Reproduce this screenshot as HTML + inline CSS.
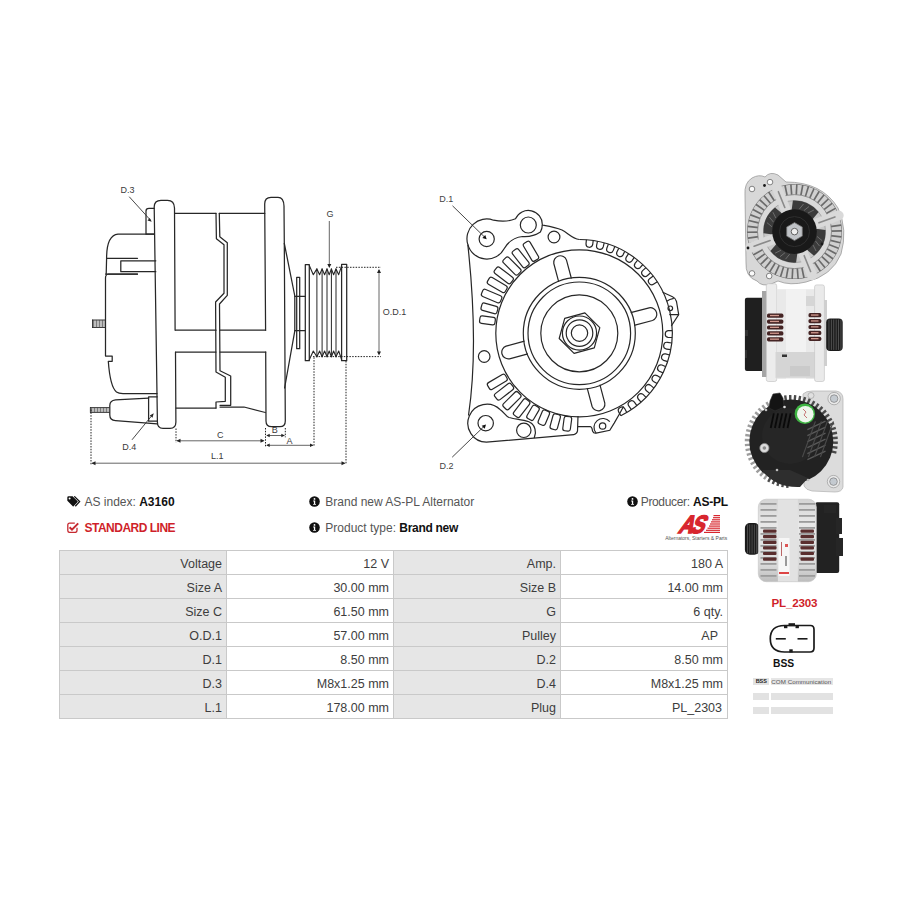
<!DOCTYPE html>
<html><head><meta charset="utf-8">
<style>
html,body{margin:0;padding:0;background:#fff;width:900px;height:900px;overflow:hidden;font-family:"Liberation Sans",sans-serif;}
#draw{position:absolute;left:0;top:0;width:900px;height:900px;}
.t{position:absolute;white-space:nowrap;font-size:12px;line-height:14px;color:#444;}
.b{font-weight:bold;color:#111;}
.red{color:#cf1f2a;font-weight:bold;}
.ic{position:absolute;}
table{position:absolute;left:59px;top:550px;border-collapse:collapse;font-size:12.5px;color:#3d3d3d;}
td{border:1.3px solid #c9c9c9;height:21px;padding:2px 4px 0 0;text-align:right;width:162px;}
td.h{background:#e6e6e6;}
</style></head>
<body>
<svg id="draw" width="900" height="900" viewBox="0 0 900 900">
<g id="side" fill="none" stroke="#272727" stroke-width="1.25" stroke-linejoin="round" stroke-linecap="round">
<!-- rear cover upper -->
<path d="M154,234.2 L118,234.2 C110,235 106.6,245 106.6,258.3 L106.2,274"/>
<path d="M106.6,258.3 L137.5,258.3 M105.5,274 L137.5,274"/>
<path d="M155.8,260.8 L120.8,260.8 L120.8,271.7 L155.8,271.7"/>
<!-- rear cover lower -->
<path d="M137.5,274 L108.5,274 Q105.5,274.5 105.5,278 L105.5,356 L112.2,356 L112.2,361.3 L108.3,361.3 C109.5,378 111.5,388 116.5,392 Q118.5,393.5 123,393.5 L157,393.5"/>
<!-- D.3 tab -->
<path d="M154.2,234.2 L146,234.2 L146,211 Q146,208.3 149,208.3 L154.2,208.3"/>
<!-- front flange -->
<path d="M175.1,330.2 L174.5,208 Q174.3,200.3 167.5,200.3 L161,200.3 Q154.2,200.3 154.2,207 L157.4,422 Q157.4,428.4 163,428.4 L170,428.4 Q175.9,428.4 175.9,422 L175.5,352"/>
<!-- stud top -->
<g stroke-width="0.9"><path d="M92.5,320 L105.5,320 M92.5,327.5 L105.5,327.5 M92.5,320 L92.5,327.5"/>
<path d="M93.5,320.3 V327.2 M95.0,320.3 V327.2 M96.5,320.3 V327.2 M98.0,320.3 V327.2 M99.5,320.3 V327.2 M101.0,320.3 V327.2 M102.5,320.3 V327.2 M104.0,320.3 V327.2" stroke-width="0.7" stroke="#444"/></g>
<!-- stud bottom -->
<g stroke-width="0.9"><path d="M90.4,407.6 L109.3,407.6 M90.4,412.4 L109.3,412.4 M90.4,407.6 V412.4"/>
<path d="M91.5,407.9 V412.2 M93.0,407.9 V412.2 M94.5,407.9 V412.2 M96.0,407.9 V412.2 M97.5,407.9 V412.2 M99.0,407.9 V412.2 M100.5,407.9 V412.2 M102.0,407.9 V412.2 M103.5,407.9 V412.2 M105.0,407.9 V412.2 M106.5,407.9 V412.2 M108.0,407.9 V412.2" stroke-width="0.7" stroke="#444"/></g>
<!-- D.4 lug -->
<path d="M148.6,398.1 L115.5,399.8 Q109.8,400.5 109.8,405.5 L109.8,415 Q109.8,420.2 115.5,420.7 L157.2,423.9"/>
<path d="M157.2,396.8 L148.6,396.8 L148.6,421.2 L157.2,421.2"/>
<!-- stator housing upper -->
<path d="M175,213.3 L216,213.3 M219.3,213.3 L264.8,213.3"/>
<path d="M175.6,330.2 L216,330.2 M220,330.2 L265.6,330.2"/>
<path d="M175.9,352 L216,352 M220,352 L265.7,352"/>
<path d="M216,213.3 L216.4,238.7 L224,244.7 L224,293.3 L215.6,302 L216,372 L225.3,377.3 L225.3,401.3 L216,402 L216,408"/>
<path d="M219.3,213.3 L219.8,236.7 L227.3,242.7 L227.3,295.3 L219.5,304 L220,370.7 L230.7,376 L230.7,405.3 L220,405.3"/>
<path d="M176.1,408 L216,408 M220,407 L244,407 L265.3,412.5"/>
<!-- rear flange -->
<path d="M265.6,330.2 L264.7,204 Q264.7,197.3 271,197.3 L278,197.3 Q283.7,197.3 284,206 L284.3,243 L285.3,421 Q285.3,426.7 280,426.7 L271.5,426.7 Q266,426.7 266,421 L265.7,352"/>
<!-- cone -->
<path d="M284.3,243.3 L294.8,296 L294.8,330.8 L284.6,388"/>
<!-- hub -->
<rect x="296.7" y="277.3" width="3" height="71.4"/>
<path d="M294.8,296.4 L305.3,296.4 M294.8,330.7 L305.3,330.7"/>
<!-- pulley -->
<rect x="305.3" y="264.5" width="4" height="96.2"/>
<rect x="341.6" y="264.4" width="5.1" height="96.3"/>
<path d="M309.3,265.5 L313.3,274.7 L316.9,268.9 L319.6,274.7 L322.1,268.9 L324.6,274.7 L327.0,268.9 L329.2,274.7 L331.4,268.9 L333.6,274.7 L336.0,268.9 L338.7,274.7 L341.6,266" stroke-width="1.1"/>
<path d="M309.3,359.8 L313.3,351 L316.9,356.8 L319.6,351 L322.1,356.8 L324.6,351 L327.0,356.8 L329.2,351 L331.4,356.8 L333.6,351 L336.0,356.8 L338.7,351 L341.6,359.5" stroke-width="1.1"/>
<path d="M316.9,268.9 V356.8 M322.1,268.9 V356.8 M327.0,268.9 V356.8 M331.4,268.9 V356.8 M336.0,268.9 V356.8" stroke-width="1"/>
</g>
<g id="dims" fill="none" stroke="#333" stroke-width="0.9">
<path d="M91,409.6 V464.3 M176,428.5 V442.7 M265.5,428 V446.7 M285.3,428 V437.3 M314,357.3 V446.7 M346,361 V464 M336,267.3 H381 M313,356.6 H381" stroke-dasharray="1.5 1.3" stroke="#222" stroke-width="1"/>
<path d="M92,463.2 H344.5 M177,440.8 H263.5 M267,435.5 H284.3 M267,445.3 H313 M379,270 V354 M329.3,221 V266.5" stroke="#555"/>
<g fill="#222" stroke="none">
<path d="M91.5,463.2 l4,-2 v4 z M345.5,463.2 l-4,-2 v4 z"/>
<path d="M176.5,440.8 l4,-2 v4 z M264.5,440.8 l-4,-2 v4 z"/>
<path d="M266.2,435.5 l3.5,-1.8 v3.6 z M284.8,435.5 l-3.5,-1.8 v3.6 z"/>
<path d="M266.2,445.3 l3.5,-1.8 v3.6 z M313.5,445.3 l-3.5,-1.8 v3.6 z"/>
<path d="M379,269 l-2,4 h4 z M379,355.5 l-2,-4 h4 z"/>
<path d="M329.3,268 l-2,-4 h4 z"/>
<path d="M151.7,221.7 l-4.2,-1.2 l2.2,-2.6 z M153.7,413.3 l-1.2,4.4 l-2.7,-2.3 z"/>
</g>
<path d="M129.2,196.7 L150.5,220.2 M132,439.8 L152.5,414.8" stroke="#333"/>
</g>
<g font-family="Liberation Sans" font-size="9" fill="#3a3a3a">
<text x="120.5" y="193.2">D.3</text>
<text x="122.3" y="450.2">D.4</text>
<text x="326.5" y="217">G</text>
<text x="382.8" y="315.3">O.D.1</text>
<text x="217" y="438">C</text>
<text x="271.8" y="433.3">B</text>
<text x="286.4" y="444">A</text>
<text x="211" y="458.7">L.1</text>
</g>
<g id="front" fill="none" stroke="#272727" stroke-width="1.2">
<circle cx="579.3" cy="333.3" r="83.5"/>
<circle cx="579.3" cy="333.3" r="51.3"/>
<circle cx="579.3" cy="333.3" r="38.5"/>
<path d="M584.9,312.8 L599.8,327.7 L594.3,347.9 L574.1,353.4 L559.2,338.5 L564.7,318.3Z" stroke-linejoin="round"/>
<circle cx="579.5" cy="333.1" r="17.1"/>
<circle cx="579.5" cy="333.1" r="13.3"/>
<circle cx="579.5" cy="333.1" r="8.2"/>
<path d="M571.4,278.5 L566.5,260.1 A6.6,6.6 0 0 0 553.8,263.5 L558.7,281.9" fill="#fff"/>
<path d="M634.1,325.4 L652.5,320.5 A6.6,6.6 0 0 0 649.1,307.8 L630.7,312.7" fill="#fff"/>
<path d="M587.2,388.1 L592.1,406.5 A6.6,6.6 0 0 0 604.8,403.1 L599.9,384.7" fill="#fff"/>
<path d="M524.5,341.2 L506.1,346.1 A6.6,6.6 0 0 0 509.5,358.8 L527.9,353.9" fill="#fff"/>
<circle cx="579.3" cy="333.3" r="56.0"/>
<rect x="479.70" y="316.59" width="15.50" height="7.60" rx="2.2" transform="rotate(188.00 487.45 320.39)"/>
<rect x="481.19" y="304.58" width="16.50" height="7.60" rx="2.2" transform="rotate(195.50 489.44 308.38)"/>
<rect x="481.37" y="292.28" width="20.50" height="7.60" rx="2.2" transform="rotate(203.00 491.62 296.08)"/>
<rect x="486.98" y="281.16" width="20.50" height="7.60" rx="2.2" transform="rotate(210.50 497.23 284.96)"/>
<rect x="493.48" y="271.52" width="20.50" height="7.60" rx="2.2" transform="rotate(217.50 503.73 275.32)"/>
<rect x="501.70" y="262.15" width="20.50" height="7.60" rx="2.2" transform="rotate(225.00 511.95 265.95)"/>
<rect x="510.41" y="254.44" width="20.50" height="7.60" rx="2.2" transform="rotate(232.00 520.66 258.24)"/>
<rect x="520.71" y="247.43" width="20.50" height="7.60" rx="2.2" transform="rotate(239.50 530.96 251.23)"/>
<rect x="487.06" y="377.99" width="20.50" height="7.60" rx="2.2" transform="rotate(149.40 497.31 381.79)"/>
<rect x="493.79" y="387.88" width="20.50" height="7.60" rx="2.2" transform="rotate(142.20 504.04 391.68)"/>
<rect x="501.70" y="396.85" width="20.50" height="7.60" rx="2.2" transform="rotate(135.00 511.95 400.65)"/>
<rect x="511.64" y="404.37" width="20.00" height="7.60" rx="2.2" transform="rotate(127.60 521.64 408.17)"/>
<rect x="525.52" y="409.01" width="15.00" height="7.60" rx="2.2" transform="rotate(120.20 533.02 412.81)"/>
<rect x="536.34" y="413.85" width="15.00" height="7.60" rx="2.2" transform="rotate(112.80 543.84 417.65)"/>
<rect x="547.49" y="418.04" width="15.50" height="7.60" rx="2.2" transform="rotate(105.20 555.24 421.84)"/>
<rect x="559.98" y="419.95" width="14.50" height="7.60" rx="2.2" transform="rotate(97.60 567.23 423.75)"/>
<path d="M593.2,240.5 L592.7,244.7 A3.4,3.4 0 0 1 586.0,243.9 L586.4,239.7"/>
<path d="M604.2,242.8 L603.2,246.9 A3.4,3.4 0 0 1 596.6,245.3 L597.5,241.2"/>
<path d="M614.8,246.5 L613.3,250.4 A3.4,3.4 0 0 1 606.9,248.0 L608.4,244.1"/>
<path d="M624.8,251.3 L622.9,255.1 A3.4,3.4 0 0 1 616.9,252.0 L618.8,248.2"/>
<path d="M634.3,257.4 L631.9,260.9 A3.4,3.4 0 0 1 626.3,257.1 L628.6,253.6"/>
<path d="M642.9,264.5 L640.1,267.7 A3.4,3.4 0 0 1 635.0,263.3 L637.7,260.1"/>
<path d="M650.6,272.7 L647.5,275.5 A3.4,3.4 0 0 1 642.9,270.4 L646.0,267.6"/>
<path d="M657.3,281.7 L653.8,284.1 A3.4,3.4 0 0 1 649.9,278.5 L653.3,276.1"/>
<path d="M672.2,337.5 L668.0,337.4 A3.4,3.4 0 0 1 668.1,330.7 L672.3,330.7"/>
<path d="M670.8,349.7 L666.6,349.1 A3.4,3.4 0 0 1 667.6,342.3 L671.8,343.0"/>
<path d="M667.7,361.6 L663.7,360.4 A3.4,3.4 0 0 1 665.6,353.9 L669.6,355.0"/>
<path d="M663.1,372.9 L659.3,371.2 A3.4,3.4 0 0 1 662.0,365.0 L665.9,366.7"/>
<path d="M657.1,383.6 L653.5,381.4 A3.4,3.4 0 0 1 657.0,375.6 L660.6,377.8"/>
<path d="M649.7,393.4 L646.4,390.7 A3.4,3.4 0 0 1 650.7,385.4 L654.0,388.1"/>
<path d="M641.1,402.1 L638.2,399.0 A3.4,3.4 0 0 1 643.1,394.4 L646.0,397.4"/>
<path d="M631.4,409.6 L628.9,406.2 A3.4,3.4 0 0 1 634.4,402.2 L636.9,405.6"/>
<path d="M620.8,415.8 L618.8,412.1 A3.4,3.4 0 0 1 624.8,408.8 L626.8,412.5"/>
<path d="M579.3,239.5 A93,93 0 0 1 620.8,415.7"/>
<path d="M468.5,415.5 C474.5,375 476,320 467.8,244.4"/>
<path d="M467.8,244.4 A19.7,19.7 0 0 1 493.5,220.2 C500,221.5 508,222 515.5,218.8 A14,14 0 0 1 542.3,225 C548,226 555,227 562,230 C568,233 572,238.5 579.3,239.5"/>
<path d="M467.8,244.4 A19.7,19.7 0 0 0 504.3,248.5 C507.5,243 514,237.5 522.5,236.5 C530,237 536,235 540.4,232 A14,14 0 0 0 542.3,225"/>
<circle cx="486.7" cy="239" r="7.6"/>
<circle cx="528.3" cy="225" r="8"/>
<circle cx="554" cy="237" r="5.9"/>
<circle cx="484.2" cy="356.5" r="5.8"/>
<path d="M500,409.5 A19,19 0 1 0 486.4,442.2 L573.7,434.7 Q577.3,433.5 577.5,431 L578,416"/>
<path d="M500,409.5 C504,412 506,416.5 509,417.5 C514,419 522,419.5 528.9,421.7 C533,423.5 535.5,428 535.4,433.2 L534.2,438"/>
<circle cx="485.7" cy="423.2" r="7.7"/>
<circle cx="523.8" cy="430.3" r="7.2"/>
<path d="M578,426.7 L590.3,426.7 Q592,427 592.5,431 Q593.5,433.5 596.1,433.2 L609.8,430.3 L614.2,423.1 L620,413 L623.5,406.5"/>
<path d="M596.1,433.2 A7.6,7.6 0 1 1 609.8,421.7"/>
<circle cx="602.6" cy="426" r="3.2"/>
<path d="M662.7,292.3 L672.5,296.8 Q675.8,298.3 676.5,301.5 L678.7,314.7 L671.3,326"/>
<path d="M666.7,301.3 Q669.5,299 673.8,298.3 M669.3,314.7 L678.7,314.7"/>
<circle cx="670.3" cy="308.3" r="2.3"/>
<path d="M452.5,205.8 L484.5,237" stroke="#333" stroke-width="0.9"/>
<path d="M486.7,239.2 l-4.3,-1.3 l2.9,-3 z" fill="#111" stroke="none"/>
<path d="M452.2,457.2 L484,426.4" stroke="#333" stroke-width="0.9"/>
<path d="M486,424.4 l-1.3,4.3 l-3,-2.9 z" fill="#111" stroke="none"/>
<text x="439.2" y="201.8" font-family="Liberation Sans" font-size="9" fill="#444" stroke="none">D.1</text>
<text x="439.5" y="468.8" font-family="Liberation Sans" font-size="9" fill="#444" stroke="none">D.2</text>
</g>
<g id="photos">
<defs><linearGradient id="pul" x1="0" y1="0" x2="0" y2="1"><stop offset="0" stop-color="#222"/><stop offset="0.5" stop-color="#3a3a3a"/><stop offset="1" stop-color="#151515"/></linearGradient><linearGradient id="bodyg" x1="0" y1="0" x2="0" y2="1"><stop offset="0" stop-color="#d4d4d4"/><stop offset="0.3" stop-color="#e8e8e8"/><stop offset="0.8" stop-color="#dadada"/><stop offset="1" stop-color="#bdbdbd"/></linearGradient></defs>
<path d="M745,195 Q744,183 752,178 Q759,174 765,177 Q770,171 778,175 L786,182 Q822,182 838,208 Q848,230 841,254 Q832,276 806,282 Q790,286 778,281 L771,284 Q762,287 757,281 Q745,277 746,262 Z" fill="#d8d8d8" stroke="#9a9a9a" stroke-width="0.8"/>
<circle cx="794.5" cy="231.6" r="47.5" fill="#6a6a6a"/>
<path d="M788.1,196.2 L785.9,185.4 L790.1,184.8 L790.9,195.8 Z" fill="#d0d0d0"/>
<path d="M792.6,195.7 L791.7,184.7 L796.0,184.6 L795.4,195.6 Z" fill="#d0d0d0"/>
<path d="M797.1,195.7 L797.6,184.7 L801.9,185.2 L799.9,196.0 Z" fill="#d0d0d0"/>
<path d="M801.6,196.3 L803.5,185.5 L807.6,186.5 L804.4,197.0 Z" fill="#d0d0d0"/>
<path d="M805.9,197.5 L809.2,187.0 L813.2,188.5 L808.6,198.5 Z" fill="#d0d0d0"/>
<path d="M810.1,199.2 L814.7,189.1 L818.4,191.1 L812.7,200.5 Z" fill="#d0d0d0"/>
<path d="M814.1,201.4 L819.8,192.0 L823.3,194.5 L816.4,203.0 Z" fill="#d0d0d0"/>
<path d="M817.7,204.1 L824.6,195.5 L827.7,198.4 L819.8,206.0 Z" fill="#d0d0d0"/>
<path d="M821.0,207.2 L828.9,199.5 L831.6,202.8 L822.8,209.4 Z" fill="#d0d0d0"/>
<path d="M823.8,210.7 L832.6,204.1 L835.0,207.7 L825.4,213.1 Z" fill="#d0d0d0"/>
<path d="M826.2,214.5 L835.8,209.1 L837.6,212.9 L827.5,217.1 Z" fill="#d0d0d0"/>
<path d="M828.1,218.6 L838.3,214.5 L839.6,218.5 L829.0,221.4 Z" fill="#d0d0d0"/>
<path d="M829.4,223.0 L840.1,220.1 L840.9,224.2 L830.0,225.8 Z" fill="#d0d0d0"/>
<path d="M830.3,227.4 L841.1,225.9 L841.5,230.1 L830.5,230.3 Z" fill="#d0d0d0"/>
<path d="M830.5,231.9 L841.5,231.8 L841.3,236.0 L830.4,234.8 Z" fill="#d0d0d0"/>
<path d="M830.2,236.4 L841.1,237.7 L840.4,241.9 L829.7,239.3 Z" fill="#d0d0d0"/>
<path d="M829.3,240.9 L840.0,243.4 L838.7,247.5 L828.4,243.6 Z" fill="#d0d0d0"/>
<path d="M827.9,245.1 L838.1,249.1 L836.4,252.9 L826.7,247.8 Z" fill="#d0d0d0"/>
<path d="M825.9,249.2 L835.6,254.4 L833.4,258.0 L824.4,251.7 Z" fill="#d0d0d0"/>
<path d="M823.4,253.0 L832.4,259.4 L829.8,262.7 L821.6,255.3 Z" fill="#d0d0d0"/>
<path d="M820.5,256.5 L828.6,263.9 L825.6,266.9 L818.4,258.5 Z" fill="#d0d0d0"/>
<path d="M817.2,259.5 L824.3,267.9 L820.9,270.5 L814.9,261.3 Z" fill="#d0d0d0"/>
<path d="M813.5,262.2 L819.5,271.4 L815.8,273.5 L811.0,263.6 Z" fill="#d0d0d0"/>
<path d="M809.5,264.3 L814.4,274.2 L810.4,275.8 L806.9,265.4 Z" fill="#d0d0d0"/>
<path d="M805.3,265.9 L808.9,276.4 L804.8,277.5 L802.5,266.7 Z" fill="#d0d0d0"/>
<path d="M800.9,267.0 L803.1,277.8 L798.9,278.4 L798.1,267.4 Z" fill="#d0d0d0"/>
<path d="M796.4,267.5 L797.3,278.5 L793.0,278.6 L793.6,267.6 Z" fill="#d0d0d0"/>
<path d="M791.9,267.5 L791.4,278.5 L787.1,278.0 L789.1,267.2 Z" fill="#d0d0d0"/>
<path d="M787.4,266.9 L785.5,277.7 L781.4,276.7 L784.6,266.2 Z" fill="#d0d0d0"/>
<path d="M783.1,265.7 L779.8,276.2 L775.8,274.7 L780.4,264.7 Z" fill="#d0d0d0"/>
<path d="M778.9,264.0 L774.3,274.1 L770.6,272.1 L776.3,262.7 Z" fill="#d0d0d0"/>
<path d="M774.9,261.8 L769.2,271.2 L765.7,268.7 L772.6,260.2 Z" fill="#d0d0d0"/>
<path d="M771.3,259.1 L764.4,267.7 L761.3,264.8 L769.2,257.2 Z" fill="#d0d0d0"/>
<path d="M768.0,256.0 L760.1,263.7 L757.4,260.4 L766.2,253.8 Z" fill="#d0d0d0"/>
<path d="M765.2,252.5 L756.4,259.1 L754.0,255.5 L763.6,250.1 Z" fill="#d0d0d0"/>
<path d="M762.8,248.7 L753.2,254.1 L751.4,250.3 L761.5,246.1 Z" fill="#d0d0d0"/>
<path d="M760.9,244.6 L750.7,248.7 L749.4,244.7 L760.0,241.8 Z" fill="#d0d0d0"/>
<path d="M759.6,240.2 L748.9,243.1 L748.1,239.0 L759.0,237.4 Z" fill="#d0d0d0"/>
<path d="M758.7,235.8 L747.9,237.3 L747.5,233.1 L758.5,232.9 Z" fill="#d0d0d0"/>
<path d="M758.5,231.3 L747.5,231.4 L747.7,227.2 L758.6,228.4 Z" fill="#d0d0d0"/>
<path d="M758.8,226.8 L747.9,225.5 L748.6,221.3 L759.3,223.9 Z" fill="#d0d0d0"/>
<path d="M759.7,222.3 L749.0,219.8 L750.3,215.7 L760.6,219.6 Z" fill="#d0d0d0"/>
<path d="M761.1,218.1 L750.9,214.1 L752.6,210.3 L762.3,215.4 Z" fill="#d0d0d0"/>
<path d="M763.1,214.0 L753.4,208.8 L755.6,205.2 L764.6,211.5 Z" fill="#d0d0d0"/>
<path d="M765.6,210.2 L756.6,203.8 L759.2,200.5 L767.4,207.9 Z" fill="#d0d0d0"/>
<path d="M768.5,206.7 L760.4,199.3 L763.4,196.3 L770.6,204.7 Z" fill="#d0d0d0"/>
<path d="M771.8,203.7 L764.7,195.3 L768.1,192.7 L774.1,201.9 Z" fill="#d0d0d0"/>
<path d="M775.5,201.0 L769.5,191.8 L773.2,189.7 L778.0,199.6 Z" fill="#d0d0d0"/>
<path d="M779.5,198.9 L774.6,189.0 L778.6,187.4 L782.1,197.8 Z" fill="#d0d0d0"/>
<path d="M783.7,197.3 L780.1,186.8 L784.2,185.7 L786.5,196.5 Z" fill="#d0d0d0"/>
<circle cx="794.5" cy="231.6" r="37" fill="#d9d9d9" stroke="#7c7c7c" stroke-width="0.8"/>
<circle cx="794.5" cy="231.6" r="31" fill="#c8c8c8" stroke="#8a8a8a" stroke-width="0.6"/>
<path d="M792.9,200.6 A31,31 0 0 1 818.6,212.1 L811.3,220.7 A20,20 0 0 0 791.4,211.8 Z" fill="#3b3b3b"/>
<line x1="799.3" y1="209.1" x2="803.5" y2="204.0" stroke="#6d6d6d" stroke-width="1"/>
<line x1="803.9" y1="210.6" x2="809.0" y2="206.5" stroke="#6d6d6d" stroke-width="1"/>
<line x1="808.0" y1="213.0" x2="813.9" y2="210.0" stroke="#6d6d6d" stroke-width="1"/>
<path d="M825.5,230.0 A31,31 0 0 1 814.0,255.7 L805.4,248.4 A20,20 0 0 0 814.3,228.5 Z" fill="#3b3b3b"/>
<line x1="817.0" y1="236.4" x2="822.1" y2="240.6" stroke="#6d6d6d" stroke-width="1"/>
<line x1="815.5" y1="241.0" x2="819.6" y2="246.1" stroke="#6d6d6d" stroke-width="1"/>
<line x1="813.1" y1="245.1" x2="816.1" y2="251.0" stroke="#6d6d6d" stroke-width="1"/>
<path d="M796.1,262.6 A31,31 0 0 1 770.4,251.1 L777.7,242.5 A20,20 0 0 0 797.6,251.4 Z" fill="#3b3b3b"/>
<line x1="789.7" y1="254.1" x2="785.5" y2="259.2" stroke="#6d6d6d" stroke-width="1"/>
<line x1="785.1" y1="252.6" x2="780.0" y2="256.7" stroke="#6d6d6d" stroke-width="1"/>
<line x1="781.0" y1="250.2" x2="775.1" y2="253.2" stroke="#6d6d6d" stroke-width="1"/>
<path d="M763.5,233.2 A31,31 0 0 1 775.0,207.5 L783.6,214.8 A20,20 0 0 0 774.7,234.7 Z" fill="#3b3b3b"/>
<line x1="772.0" y1="226.8" x2="766.9" y2="222.6" stroke="#6d6d6d" stroke-width="1"/>
<line x1="773.5" y1="222.2" x2="769.4" y2="217.1" stroke="#6d6d6d" stroke-width="1"/>
<line x1="775.9" y1="218.1" x2="772.9" y2="212.2" stroke="#6d6d6d" stroke-width="1"/>
<line x1="789.3" y1="218.6" x2="776.9" y2="188.0" stroke="#d9d9d9" stroke-width="10.00" stroke-linecap="round"/>
<line x1="784.8" y1="207.5" x2="778.4" y2="191.7" stroke="#8a8a8a" stroke-width="1.60" stroke-linecap="round"/>
<line x1="807.7" y1="226.8" x2="838.7" y2="215.5" stroke="#d9d9d9" stroke-width="10.00" stroke-linecap="round"/>
<line x1="818.9" y1="222.7" x2="834.9" y2="216.9" stroke="#8a8a8a" stroke-width="1.60" stroke-linecap="round"/>
<line x1="799.7" y1="244.6" x2="812.1" y2="275.2" stroke="#d9d9d9" stroke-width="10.00" stroke-linecap="round"/>
<line x1="804.2" y1="255.7" x2="810.6" y2="271.5" stroke="#8a8a8a" stroke-width="1.60" stroke-linecap="round"/>
<line x1="781.3" y1="236.4" x2="750.3" y2="247.7" stroke="#d9d9d9" stroke-width="10.00" stroke-linecap="round"/>
<line x1="770.1" y1="240.5" x2="754.1" y2="246.3" stroke="#8a8a8a" stroke-width="1.60" stroke-linecap="round"/>
<circle cx="794.5" cy="231.6" r="22.3" fill="#191919"/>
<circle cx="794.5" cy="231.6" r="15" fill="none" stroke="#2e2e2e" stroke-width="1"/>
<path d="M802.3,236.1 L794.5,240.6 L786.7,236.1 L786.7,227.1 L794.5,222.6 L802.3,227.1 Z" fill="#c0c3c7" stroke="#6f6f6f" stroke-width="0.8"/>
<circle cx="794.5" cy="231.6" r="3.3" fill="#eee" stroke="#555" stroke-width="0.9"/>
<circle cx="752.0" cy="189.0" r="2.8" fill="#fafafa" stroke="#777" stroke-width="0.9"/>
<circle cx="770.0" cy="182.1" r="2.8" fill="#fafafa" stroke="#777" stroke-width="0.9"/>
<circle cx="752.0" cy="273.4" r="2.8" fill="#fafafa" stroke="#777" stroke-width="0.9"/>
<circle cx="769.2" cy="276.0" r="2.8" fill="#fafafa" stroke="#777" stroke-width="0.9"/>
<circle cx="764.5" cy="185.5" r="1.4" fill="#1a1a1a"/>
<circle cx="785.0" cy="213.5" r="1.4" fill="#1a1a1a"/>
<circle cx="748.0" cy="248.0" r="1.4" fill="#1a1a1a"/>
<circle cx="822.0" cy="244.0" r="1.4" fill="#1a1a1a"/>
<rect x="744.9" y="297.7" width="21.4" height="73.3" rx="2" fill="#1f1f1f"/>
<path d="M745,330 h3 v6 h-3z M745,350 h2 v8 h-2z" fill="#333"/>
<rect x="762" y="291" width="5" height="86" fill="#a5a5a5"/>
<rect x="766.3" y="283.7" width="10.4" height="97.8" rx="2" fill="#ececec" stroke="#bdbdbd" stroke-width="0.6"/>
<rect x="776.7" y="289.2" width="37.9" height="89.8" fill="#e9e9e9"/>
<rect x="786" y="289.2" width="20" height="89.8" fill="#f2f2f2"/>
<rect x="775.5" y="352" width="39.1" height="25.8" fill="#d5d5d5"/>
<rect x="790" y="366" width="20" height="10" fill="#cacaca"/>
<rect x="782" y="354.5" width="5" height="2.5" fill="#333"/>
<rect x="814.6" y="284.9" width="9.8" height="96.6" rx="2" fill="#eaeaea" stroke="#bdbdbd" stroke-width="0.6"/>
<rect x="806" y="296" width="8" height="10" fill="#d6d6d6"/>
<rect x="824" y="300" width="3" height="66" fill="#cfcfcf"/>
<rect x="826.2" y="318.5" width="16.5" height="32.4" rx="4" fill="#1b1b1b"/>
<rect x="828.5" y="319.5" width="0.9" height="30.4" fill="#555"/>
<rect x="830.9" y="319.5" width="0.9" height="30.4" fill="#555"/>
<rect x="833.3" y="319.5" width="0.9" height="30.4" fill="#555"/>
<rect x="835.7" y="319.5" width="0.9" height="30.4" fill="#555"/>
<rect x="838.1" y="319.5" width="0.9" height="30.4" fill="#555"/>
<rect x="840.5" y="319.5" width="0.9" height="30.4" fill="#555"/>
<rect x="767" y="313.6" width="16.4" height="4.2" rx="1.6" fill="#452424"/>
<rect x="770" y="314.9" width="9" height="1.3" fill="#d29a8f"/>
<rect x="808.5" y="313.1" width="12.8" height="4.2" rx="1.6" fill="#452424"/>
<rect x="811" y="314.4" width="7.5" height="1.3" fill="#d29a8f"/>
<rect x="767" y="319.5" width="16.4" height="4.2" rx="1.6" fill="#452424"/>
<rect x="770" y="320.8" width="9" height="1.3" fill="#d29a8f"/>
<rect x="808.5" y="319.0" width="12.8" height="4.2" rx="1.6" fill="#452424"/>
<rect x="811" y="320.3" width="7.5" height="1.3" fill="#d29a8f"/>
<rect x="767" y="325.4" width="16.4" height="4.2" rx="1.6" fill="#452424"/>
<rect x="770" y="326.7" width="9" height="1.3" fill="#d29a8f"/>
<rect x="808.5" y="324.9" width="12.8" height="4.2" rx="1.6" fill="#452424"/>
<rect x="811" y="326.2" width="7.5" height="1.3" fill="#d29a8f"/>
<rect x="767" y="331.3" width="16.4" height="4.2" rx="1.6" fill="#452424"/>
<rect x="770" y="332.6" width="9" height="1.3" fill="#d29a8f"/>
<rect x="808.5" y="330.8" width="12.8" height="4.2" rx="1.6" fill="#452424"/>
<rect x="811" y="332.1" width="7.5" height="1.3" fill="#d29a8f"/>
<rect x="767" y="337.2" width="16.4" height="4.2" rx="1.6" fill="#452424"/>
<rect x="770" y="338.5" width="9" height="1.3" fill="#d29a8f"/>
<rect x="808.5" y="336.7" width="12.8" height="4.2" rx="1.6" fill="#452424"/>
<rect x="811" y="338.0" width="7.5" height="1.3" fill="#d29a8f"/>
<path d="M803,394 Q806,391 812,391 L836,391 Q843,392 843,399 L843,487 Q842,492 835,492 L812,491 Q806,490 804,486 Z" fill="#dcdcdc" stroke="#b0b0b0" stroke-width="0.7"/>
<circle cx="834.1" cy="398.6" r="6.2" fill="#e9e9e9" stroke="#999" stroke-width="0.7"/>
<circle cx="834.1" cy="398.6" r="3.8" fill="#c4cad0" stroke="#7d7d7d" stroke-width="0.7"/>
<circle cx="833.5" cy="481.6" r="6.2" fill="#e9e9e9" stroke="#999" stroke-width="0.7"/>
<circle cx="833.5" cy="481.6" r="3.8" fill="#c4cad0" stroke="#7d7d7d" stroke-width="0.7"/>
<circle cx="811" cy="395.5" r="3" fill="#e0e0e0" stroke="#999" stroke-width="0.6"/>
<line x1="787.8" y1="481.3" x2="787.2" y2="487.8" stroke="#4a4a4a" stroke-width="2.40" stroke-linecap="butt"/>
<line x1="783.5" y1="480.7" x2="782.3" y2="487.1" stroke="#4a4a4a" stroke-width="2.40" stroke-linecap="butt"/>
<line x1="779.3" y1="479.7" x2="777.4" y2="485.9" stroke="#4a4a4a" stroke-width="2.40" stroke-linecap="butt"/>
<line x1="775.3" y1="478.2" x2="772.7" y2="484.1" stroke="#4a4a4a" stroke-width="2.40" stroke-linecap="butt"/>
<line x1="771.4" y1="476.2" x2="768.2" y2="481.9" stroke="#4a4a4a" stroke-width="2.40" stroke-linecap="butt"/>
<line x1="767.8" y1="473.9" x2="764.0" y2="479.1" stroke="#9c9c9c" stroke-width="2.40" stroke-linecap="butt"/>
<line x1="764.4" y1="471.1" x2="760.1" y2="475.9" stroke="#9c9c9c" stroke-width="2.40" stroke-linecap="butt"/>
<line x1="761.4" y1="468.1" x2="756.5" y2="472.4" stroke="#9c9c9c" stroke-width="2.40" stroke-linecap="butt"/>
<line x1="758.7" y1="464.7" x2="753.4" y2="468.4" stroke="#9c9c9c" stroke-width="2.40" stroke-linecap="butt"/>
<line x1="756.4" y1="461.0" x2="750.7" y2="464.2" stroke="#9c9c9c" stroke-width="2.40" stroke-linecap="butt"/>
<line x1="754.5" y1="457.1" x2="748.5" y2="459.7" stroke="#9c9c9c" stroke-width="2.40" stroke-linecap="butt"/>
<line x1="753.0" y1="453.1" x2="746.8" y2="454.9" stroke="#9c9c9c" stroke-width="2.40" stroke-linecap="butt"/>
<line x1="752.0" y1="448.9" x2="745.6" y2="450.1" stroke="#9c9c9c" stroke-width="2.40" stroke-linecap="butt"/>
<line x1="751.4" y1="444.6" x2="744.9" y2="445.1" stroke="#9c9c9c" stroke-width="2.40" stroke-linecap="butt"/>
<line x1="751.3" y1="440.2" x2="744.8" y2="440.0" stroke="#9c9c9c" stroke-width="2.40" stroke-linecap="butt"/>
<line x1="751.7" y1="435.9" x2="745.3" y2="435.0" stroke="#9c9c9c" stroke-width="2.40" stroke-linecap="butt"/>
<line x1="752.5" y1="431.7" x2="746.2" y2="430.1" stroke="#9c9c9c" stroke-width="2.40" stroke-linecap="butt"/>
<line x1="753.8" y1="427.6" x2="747.7" y2="425.3" stroke="#9c9c9c" stroke-width="2.40" stroke-linecap="butt"/>
<line x1="755.5" y1="423.6" x2="749.7" y2="420.7" stroke="#9c9c9c" stroke-width="2.40" stroke-linecap="butt"/>
<line x1="757.7" y1="419.8" x2="752.2" y2="416.3" stroke="#9c9c9c" stroke-width="2.40" stroke-linecap="butt"/>
<line x1="760.2" y1="416.3" x2="755.2" y2="412.2" stroke="#9c9c9c" stroke-width="2.40" stroke-linecap="butt"/>
<line x1="763.1" y1="413.1" x2="758.5" y2="408.5" stroke="#9c9c9c" stroke-width="2.40" stroke-linecap="butt"/>
<line x1="766.3" y1="410.2" x2="762.3" y2="405.2" stroke="#9c9c9c" stroke-width="2.40" stroke-linecap="butt"/>
<line x1="769.9" y1="407.7" x2="766.4" y2="402.2" stroke="#9c9c9c" stroke-width="2.40" stroke-linecap="butt"/>
<line x1="773.6" y1="405.6" x2="770.8" y2="399.8" stroke="#9c9c9c" stroke-width="2.40" stroke-linecap="butt"/>
<line x1="777.6" y1="403.9" x2="775.4" y2="397.8" stroke="#4a4a4a" stroke-width="2.40" stroke-linecap="butt"/>
<line x1="781.8" y1="402.7" x2="780.2" y2="396.3" stroke="#4a4a4a" stroke-width="2.40" stroke-linecap="butt"/>
<line x1="786.0" y1="401.9" x2="785.2" y2="395.4" stroke="#4a4a4a" stroke-width="2.40" stroke-linecap="butt"/>
<line x1="790.3" y1="401.5" x2="790.2" y2="395.0" stroke="#4a4a4a" stroke-width="2.40" stroke-linecap="butt"/>
<line x1="794.6" y1="401.6" x2="795.2" y2="395.2" stroke="#4a4a4a" stroke-width="2.40" stroke-linecap="butt"/>
<line x1="798.9" y1="402.2" x2="800.2" y2="395.9" stroke="#4a4a4a" stroke-width="2.40" stroke-linecap="butt"/>
<line x1="803.1" y1="403.3" x2="805.1" y2="397.1" stroke="#4a4a4a" stroke-width="2.40" stroke-linecap="butt"/>
<line x1="807.2" y1="404.8" x2="809.8" y2="398.8" stroke="#4a4a4a" stroke-width="2.40" stroke-linecap="butt"/>
<line x1="811.1" y1="406.7" x2="814.3" y2="401.1" stroke="#4a4a4a" stroke-width="2.40" stroke-linecap="butt"/>
<line x1="814.7" y1="409.1" x2="818.5" y2="403.8" stroke="#4a4a4a" stroke-width="2.40" stroke-linecap="butt"/>
<line x1="818.1" y1="411.8" x2="822.4" y2="406.9" stroke="#4a4a4a" stroke-width="2.40" stroke-linecap="butt"/>
<line x1="821.1" y1="414.8" x2="826.0" y2="410.5" stroke="#4a4a4a" stroke-width="2.40" stroke-linecap="butt"/>
<line x1="823.8" y1="418.2" x2="829.1" y2="414.4" stroke="#4a4a4a" stroke-width="2.40" stroke-linecap="butt"/>
<line x1="826.1" y1="421.9" x2="831.8" y2="418.7" stroke="#4a4a4a" stroke-width="2.40" stroke-linecap="butt"/>
<line x1="828.1" y1="425.7" x2="834.0" y2="423.2" stroke="#4a4a4a" stroke-width="2.40" stroke-linecap="butt"/>
<line x1="829.6" y1="429.8" x2="835.8" y2="427.9" stroke="#4a4a4a" stroke-width="2.40" stroke-linecap="butt"/>
<line x1="830.6" y1="434.0" x2="837.0" y2="432.8" stroke="#4a4a4a" stroke-width="2.40" stroke-linecap="butt"/>
<line x1="831.2" y1="438.3" x2="837.7" y2="437.8" stroke="#4a4a4a" stroke-width="2.40" stroke-linecap="butt"/>
<line x1="831.3" y1="442.6" x2="837.8" y2="442.8" stroke="#4a4a4a" stroke-width="2.40" stroke-linecap="butt"/>
<line x1="830.9" y1="446.9" x2="837.4" y2="447.8" stroke="#4a4a4a" stroke-width="2.40" stroke-linecap="butt"/>
<line x1="830.1" y1="451.2" x2="836.4" y2="452.7" stroke="#4a4a4a" stroke-width="2.40" stroke-linecap="butt"/>
<circle cx="791.3" cy="441.5" r="42" fill="#222"/>
<path d="M762,470 Q775,488 800,487 L808,478 L790,470 Z" fill="#2e2e2e"/>
<circle cx="790" cy="436" r="28" fill="#262626"/>
<rect x="771.5" y="413" width="1.8" height="15" fill="#0a0a0a" transform="rotate(12 771.5 420)"/>
<rect x="775.7" y="413" width="1.8" height="15" fill="#0a0a0a" transform="rotate(12 775.7 420)"/>
<rect x="779.9" y="413" width="1.8" height="15" fill="#0a0a0a" transform="rotate(12 779.9 420)"/>
<rect x="784.1" y="413" width="1.8" height="15" fill="#0a0a0a" transform="rotate(12 784.1 420)"/>
<rect x="788.3" y="413" width="1.8" height="15" fill="#0a0a0a" transform="rotate(12 788.3 420)"/>
<rect x="806.0" y="424.0" width="20" height="1.2" fill="#5a5a5a" transform="rotate(-25 818 424.0)"/>
<rect x="806.0" y="430.0" width="20" height="1.2" fill="#5a5a5a" transform="rotate(-25 818 430.0)"/>
<rect x="806.0" y="436.0" width="20" height="1.2" fill="#5a5a5a" transform="rotate(-25 818 436.0)"/>
<rect x="806.0" y="442.0" width="20" height="1.2" fill="#5a5a5a" transform="rotate(-25 818 442.0)"/>
<rect x="806.0" y="448.0" width="20" height="1.2" fill="#5a5a5a" transform="rotate(-25 818 448.0)"/>
<rect x="806.0" y="454.0" width="20" height="1.2" fill="#5a5a5a" transform="rotate(-25 818 454.0)"/>
<rect x="808.0" y="420" width="1.2" height="38" fill="#4a4a4a" transform="rotate(20 808.0 440)"/>
<rect x="814.0" y="420" width="1.2" height="38" fill="#4a4a4a" transform="rotate(20 814.0 440)"/>
<rect x="820.0" y="420" width="1.2" height="38" fill="#4a4a4a" transform="rotate(20 820.0 440)"/>
<rect x="826.0" y="420" width="1.2" height="38" fill="#4a4a4a" transform="rotate(20 826.0 440)"/>
<path d="M770,401 l3,-7 l7,-1 l3,5 l1,9 l-9,4 l-6,-3 Z" fill="#141414" stroke="#333" stroke-width="0.6"/>
<circle cx="784.5" cy="407" r="1.3" fill="#ddd"/>
<circle cx="804.8" cy="413.7" r="10.2" fill="#3fb443"/>
<circle cx="805.3" cy="414.2" r="8.3" fill="#eef6ec"/>
<path d="M803,409 l3,3 l-2,3 l3,3" stroke="#b55" stroke-width="0.8" fill="none"/>
<circle cx="764.4" cy="448" r="4.6" fill="#dcdcdc" stroke="#888" stroke-width="0.8"/>
<circle cx="764.4" cy="448" r="1.8" fill="#8a8a8a"/>
<circle cx="777.0" cy="470.0" r="1.3" fill="#bbb"/>
<circle cx="808.0" cy="480.0" r="1.3" fill="#bbb"/>
<circle cx="766.0" cy="410.0" r="1.3" fill="#bbb"/>
<rect x="744.9" y="523" width="14.5" height="31.8" rx="5" fill="#1a1a1a"/>
<rect x="747.0" y="524.5" width="0.9" height="29" fill="#505050"/>
<rect x="749.3" y="524.5" width="0.9" height="29" fill="#505050"/>
<rect x="751.6" y="524.5" width="0.9" height="29" fill="#505050"/>
<rect x="753.9" y="524.5" width="0.9" height="29" fill="#505050"/>
<rect x="756.2" y="524.5" width="0.9" height="29" fill="#505050"/>
<rect x="815.2" y="502.2" width="24" height="70.9" rx="2" fill="#222"/>
<path d="M836,518 h6 v16 h-6z M836,538 h7 v18 h-7z M824,505 h12 v8 h-12z" fill="#262626"/>
<rect x="758.3" y="499.2" width="58.1" height="82.5" rx="8" fill="url(#bodyg)" stroke="#c4c4c4" stroke-width="0.6"/>
<rect x="760.5" y="503.0" width="16" height="1.8" fill="#9c9c9c"/>
<rect x="799" y="503.0" width="16" height="1.8" fill="#9c9c9c"/>
<rect x="760.5" y="509.0" width="16" height="1.8" fill="#9c9c9c"/>
<rect x="799" y="509.0" width="16" height="1.8" fill="#9c9c9c"/>
<rect x="760.5" y="515.0" width="16" height="1.8" fill="#9c9c9c"/>
<rect x="799" y="515.0" width="16" height="1.8" fill="#9c9c9c"/>
<rect x="760.5" y="521.0" width="16" height="1.8" fill="#9c9c9c"/>
<rect x="799" y="521.0" width="16" height="1.8" fill="#9c9c9c"/>
<rect x="760.5" y="527.0" width="16" height="1.8" fill="#9c9c9c"/>
<rect x="799" y="527.0" width="16" height="1.8" fill="#9c9c9c"/>
<rect x="760.5" y="533.0" width="16" height="1.8" fill="#9c9c9c"/>
<rect x="799" y="533.0" width="16" height="1.8" fill="#9c9c9c"/>
<rect x="760.5" y="539.0" width="16" height="1.8" fill="#9c9c9c"/>
<rect x="799" y="539.0" width="16" height="1.8" fill="#9c9c9c"/>
<rect x="760.5" y="545.0" width="16" height="1.8" fill="#9c9c9c"/>
<rect x="799" y="545.0" width="16" height="1.8" fill="#9c9c9c"/>
<rect x="760.5" y="551.0" width="16" height="1.8" fill="#9c9c9c"/>
<rect x="799" y="551.0" width="16" height="1.8" fill="#9c9c9c"/>
<rect x="760.5" y="557.0" width="16" height="1.8" fill="#9c9c9c"/>
<rect x="799" y="557.0" width="16" height="1.8" fill="#9c9c9c"/>
<rect x="760.5" y="563.0" width="16" height="1.8" fill="#9c9c9c"/>
<rect x="799" y="563.0" width="16" height="1.8" fill="#9c9c9c"/>
<rect x="760.5" y="569.0" width="16" height="1.8" fill="#9c9c9c"/>
<rect x="799" y="569.0" width="16" height="1.8" fill="#9c9c9c"/>
<rect x="760.5" y="575.0" width="16" height="1.8" fill="#9c9c9c"/>
<rect x="799" y="575.0" width="16" height="1.8" fill="#9c9c9c"/>
<rect x="777.9" y="499.5" width="20" height="82" fill="#e2e2e2"/>
<rect x="763" y="529.5" width="13.5" height="3.2" rx="1" fill="#5a2e2e"/>
<rect x="800.5" y="529.5" width="13.5" height="3.2" rx="1" fill="#5a2e2e"/>
<rect x="763" y="535.1" width="13.5" height="3.2" rx="1" fill="#5a2e2e"/>
<rect x="800.5" y="535.1" width="13.5" height="3.2" rx="1" fill="#5a2e2e"/>
<rect x="763" y="540.7" width="13.5" height="3.2" rx="1" fill="#5a2e2e"/>
<rect x="800.5" y="540.7" width="13.5" height="3.2" rx="1" fill="#5a2e2e"/>
<rect x="763" y="546.3" width="13.5" height="3.2" rx="1" fill="#5a2e2e"/>
<rect x="800.5" y="546.3" width="13.5" height="3.2" rx="1" fill="#5a2e2e"/>
<rect x="763" y="551.9" width="13.5" height="3.2" rx="1" fill="#5a2e2e"/>
<rect x="800.5" y="551.9" width="13.5" height="3.2" rx="1" fill="#5a2e2e"/>
<rect x="763" y="557.5" width="13.5" height="3.2" rx="1" fill="#5a2e2e"/>
<rect x="800.5" y="557.5" width="13.5" height="3.2" rx="1" fill="#5a2e2e"/>
<rect x="778.5" y="538" width="11" height="38" fill="#f6f6f6"/>
<rect x="781" y="542" width="1" height="14" fill="#b66"/>
<rect x="785" y="544" width="3" height="3" fill="#d55"/>
<rect x="785" y="556" width="2" height="10" fill="#999"/>
<rect x="779" y="572" width="10" height="2" fill="#d44"/>

</g>
</svg>

<svg class="ic" style="left:67px;top:496px" width="14" height="11" viewBox="0 0 14 11"><path d="M0.3,1.6 Q0.3,0.3 1.6,0.3 L5.6,0.3 L10.6,5.3 Q11,5.7 10.6,6.1 L6.6,10.2 Q6.2,10.6 5.8,10.2 L0.6,5 Q0.3,4.7 0.3,4.3 Z" fill="#111"/><circle cx="2.6" cy="2.6" r="1" fill="#fff"/><path d="M7.3,0.4 L12.6,5.6 L8.3,10.3" fill="none" stroke="#111" stroke-width="1.3"/></svg>
<div class="t" style="left:84.5px;top:495px;color:#555;">AS index: <span class="b">A3160</span></div>
<svg class="ic" style="left:67px;top:521.5px" width="12" height="11" viewBox="0 0 12 11"><path d="M7.8,1.2 H2.6 Q0.8,1.2 0.8,3 V8.6 Q0.8,10.4 2.6,10.4 H8.2 Q10,10.4 10,8.6 V5.8" fill="none" stroke="#c62a30" stroke-width="1.3"/><path d="M2.6,5.3 L5,7.7 L11.2,1.4" fill="none" stroke="#c62a30" stroke-width="2"/></svg>
<div class="t red" style="left:84.5px;top:521px;letter-spacing:-0.5px;">STANDARD LINE</div>
<svg class="ic" style="left:309px;top:496px" width="11" height="11" viewBox="0 0 11 11"><circle cx="5.5" cy="5.5" r="5.3" fill="#111"/><circle cx="5.5" cy="2.9" r="0.9" fill="#fff"/><path d="M4.2,4.5 H6.2 V7.9 H7 V8.8 H4.1 V7.9 H4.9 V5.4 H4.2 Z" fill="#fff"/></svg>
<div class="t" style="left:325.3px;top:495px;color:#555;">Brand new AS-PL Alternator</div>
<svg class="ic" style="left:309px;top:521.8px" width="11" height="11" viewBox="0 0 11 11"><circle cx="5.5" cy="5.5" r="5.3" fill="#111"/><circle cx="5.5" cy="2.9" r="0.9" fill="#fff"/><path d="M4.2,4.5 H6.2 V7.9 H7 V8.8 H4.1 V7.9 H4.9 V5.4 H4.2 Z" fill="#fff"/></svg>
<div class="t" style="left:325.3px;top:521px;color:#555;">Product type: <span class="b" style="letter-spacing:-0.3px">Brand new</span></div>
<svg class="ic" style="left:626.5px;top:496px" width="11" height="11" viewBox="0 0 11 11"><circle cx="5.5" cy="5.5" r="5.3" fill="#111"/><circle cx="5.5" cy="2.9" r="0.9" fill="#fff"/><path d="M4.2,4.5 H6.2 V7.9 H7 V8.8 H4.1 V7.9 H4.9 V5.4 H4.2 Z" fill="#fff"/></svg>
<div class="t" style="right:172px;top:495px;color:#555;"><span style="letter-spacing:-0.35px">Producer:</span> <span class="b" style="letter-spacing:-0.2px">AS-PL</span></div>
<svg class="ic" style="left:660px;top:508px" width="75" height="37" viewBox="0 0 75 37">
<g fill="#d8262e">
<rect x="53.5" y="7" width="6.5" height="1.2"/><rect x="53" y="9.1" width="7" height="1.2"/><rect x="52" y="11.2" width="8" height="1.2"/>
<rect x="51" y="13.3" width="9" height="1.2"/><rect x="50" y="15.4" width="10" height="1.2"/><rect x="49" y="17.5" width="11" height="1.2"/>
<rect x="47.5" y="19.6" width="12.5" height="1.2"/><rect x="46" y="21.7" width="14" height="1.2"/><rect x="44" y="23.8" width="16" height="1.2"/>
<text x="0" y="0" font-family="Liberation Sans" font-weight="bold" font-size="25" letter-spacing="-3" stroke="#d8262e" stroke-width="1.6" transform="translate(17.5,25) skewX(-24) scale(0.8,1)">AS</text>
</g>
<text x="5.2" y="32" font-family="Liberation Sans" font-size="4.6" fill="#555" textLength="62" lengthAdjust="spacingAndGlyphs">Alternators, Starters &amp; Parts</text>
</svg>
<div class="t red" style="left:771.5px;top:596px;font-size:11.6px;letter-spacing:-0.2px;">PL_2303</div>
<svg class="ic" style="left:768px;top:620px" width="50" height="36" viewBox="0 0 50 36">
<path d="M16.5,5.5 L42.5,5.5 Q46,5.5 46,9.5 L46,28 Q46,32 42,32 L16.5,32 Q2.3,32 2.3,18.7 Q2.3,5.5 16.5,5.5 Z" fill="none" stroke="#1a1a1a" stroke-width="1.7"/>
<rect x="20.5" y="3.2" width="6.5" height="3" fill="#1a1a1a"/>
<rect x="16" y="5" width="3.4" height="3.2" fill="#1a1a1a"/><rect x="27.5" y="5" width="3.4" height="3.2" fill="#1a1a1a"/>
<rect x="21.3" y="29.3" width="3.4" height="3.2" fill="#1a1a1a"/>
<rect x="7.8" y="18" width="10" height="1.6" fill="#1a1a1a"/><rect x="29.5" y="18" width="10" height="1.6" fill="#1a1a1a"/>
</svg>
<div class="t b" style="left:773px;top:658px;font-size:10.3px;line-height:12px;">BSS</div>
<div class="ic" style="left:753.3px;top:677.5px;width:16px;height:7px;background:#e2e2e2;font:bold 5.5px/7px 'Liberation Sans',sans-serif;color:#222;text-align:center;">BSS</div>
<div class="ic" style="left:770.8px;top:677.5px;width:62.5px;height:7px;background:#e6e6e6;font:6.2px/7px 'Liberation Sans',sans-serif;color:#555;padding-left:0.5px;box-sizing:border-box;letter-spacing:0.05px;">COM Communication</div>
<div class="ic" style="left:753.3px;top:692.5px;width:16px;height:7px;background:#e2e2e2;"></div>
<div class="ic" style="left:770.8px;top:692.5px;width:62.5px;height:7px;background:#e2e2e2;"></div>
<div class="ic" style="left:753.3px;top:707.3px;width:16px;height:7px;background:#e2e2e2;"></div>
<div class="ic" style="left:770.8px;top:707.3px;width:62.5px;height:7px;background:#e2e2e2;"></div>
<table>
<tr><td class="h">Voltage</td><td>12 V</td><td class="h">Amp.</td><td>180 A</td></tr>
<tr><td class="h">Size A</td><td>30.00 mm</td><td class="h">Size B</td><td>14.00 mm</td></tr>
<tr><td class="h">Size C</td><td>61.50 mm</td><td class="h">G</td><td>6 qty.</td></tr>
<tr><td class="h">O.D.1</td><td>57.00 mm</td><td class="h">Pulley</td><td style="padding-right:9px;width:157px">AP</td></tr>
<tr><td class="h">D.1</td><td>8.50 mm</td><td class="h">D.2</td><td>8.50 mm</td></tr>
<tr><td class="h">D.3</td><td>M8x1.25 mm</td><td class="h">D.4</td><td>M8x1.25 mm</td></tr>
<tr><td class="h">L.1</td><td>178.00 mm</td><td class="h">Plug</td><td style="padding-right:5px;width:161px">PL_2303</td></tr>
</table>
</body></html>
